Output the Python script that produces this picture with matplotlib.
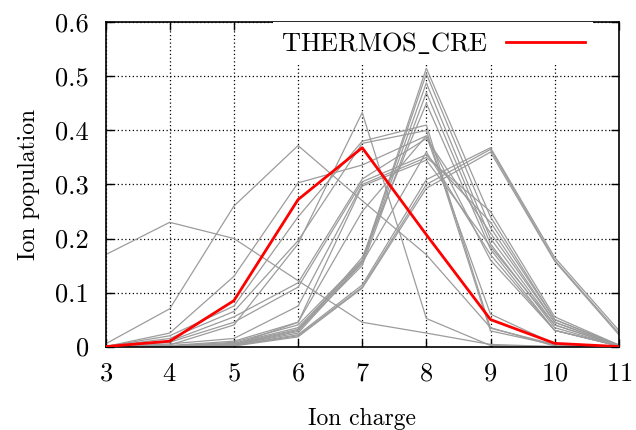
import numpy as np
import matplotlib
matplotlib.use('Agg')
import matplotlib.pyplot as plt

matplotlib.rcParams.update({'font.family': 'cmr10', 'mathtext.fontset': 'cm',
                            'axes.formatter.use_mathtext': True, 'font.size': 17})

# Ion charges
charges = [3, 4, 5, 6, 7, 8, 9, 10, 11]

# Reference code (red)
thermos_cre = [0.0, 0.01, 0.085, 0.272, 0.368, 0.207, 0.05, 0.006, 0.0]

# Other codes (gray)
others = [
    [0.17, 0.23, 0.20, 0.122, 0.045, 0.025, 0.004, 0.0, 0.0],
    [0.005, 0.07, 0.26, 0.372, 0.27, 0.17, 0.035, 0.001, 0.0],
    [0.0, 0.003, 0.04, 0.19, 0.433, 0.052, 0.002, 0.0, 0.0],
    [0.0, 0.025, 0.13, 0.303, 0.336, 0.39, 0.06, 0.005, 0.0],
    [0.0, 0.02, 0.075, 0.24, 0.38, 0.41, 0.034, 0.004, 0.0],
    [0.0, 0.015, 0.065, 0.196, 0.376, 0.40, 0.029, 0.003, 0.0],
    [0.0, 0.01, 0.055, 0.118, 0.31, 0.385, 0.21, 0.045, 0.002],
    [0.0, 0.008, 0.045, 0.11, 0.305, 0.355, 0.23, 0.05, 0.003],
    [0.0, 0.005, 0.015, 0.075, 0.30, 0.35, 0.25, 0.055, 0.003],
    [0.0, 0.002, 0.01, 0.045, 0.297, 0.345, 0.185, 0.04, 0.002],
    [0.0, 0.001, 0.008, 0.04, 0.16, 0.515, 0.24, 0.05, 0.002],
    [0.0, 0.001, 0.006, 0.035, 0.158, 0.505, 0.22, 0.045, 0.002],
    [0.0, 0.001, 0.005, 0.032, 0.155, 0.488, 0.20, 0.04, 0.001],
    [0.0, 0.0, 0.004, 0.03, 0.15, 0.47, 0.19, 0.035, 0.001],
    [0.0, 0.0, 0.003, 0.028, 0.165, 0.45, 0.18, 0.03, 0.001],
    [0.0, 0.0, 0.003, 0.025, 0.155, 0.36, 0.17, 0.03, 0.001],
    [0.0, 0.0, 0.002, 0.022, 0.114, 0.309, 0.368, 0.165, 0.03],
    [0.0, 0.0, 0.002, 0.02, 0.11, 0.30, 0.365, 0.16, 0.025],
    [0.0, 0.0, 0.001, 0.018, 0.108, 0.293, 0.36, 0.158, 0.022],
    [0.0, 0.0, 0.003, 0.045, 0.25, 0.39, 0.16, 0.03, 0.001],
]

yticks = [0, 0.1, 0.2, 0.3, 0.4, 0.5, 0.6]
ytick_labels = ['0', '0.1', '0.2', '0.3', '0.4', '0.5', '0.6']

fig = plt.figure(figsize=(6.36, 4.30), dpi=100)
ax = fig.add_axes([0.166, 0.194, 0.807, 0.754])

for vals in others:
    ax.plot(charges, vals, color='#9c9c9c', lw=0.9, zorder=2)
ax.plot(charges, thermos_cre, color='red', lw=2.0, zorder=3,
        label=r'$\mathrm{THERMOS\_CRE}$')

ax.set_xlim(3, 11)
ax.set_ylim(0, 0.6)
ax.set_xticks(charges)
ax.set_yticks(yticks)
ax.set_yticklabels(ytick_labels)
ax.grid(True, color='black', linestyle=(0, (1, 2)), lw=0.9)
ax.tick_params(direction='in', length=6, width=1, top=True, right=True,
               labelsize=19)
ax.tick_params(axis='x', pad=11)
ax.tick_params(axis='y', pad=12)
for s in ax.spines.values():
    s.set_linewidth(1.2)

ax.set_xlabel('Ion charge', labelpad=16)
ax.set_ylabel('Ion population', labelpad=11)

leg = ax.legend(loc='upper right', bbox_to_anchor=(0.95, 1.0), markerfirst=False,
                handlelength=3.0, fontsize=19,
                frameon=True, fancybox=False, framealpha=1, edgecolor='none',
                borderaxespad=0.0, borderpad=0.3, handletextpad=0.7)
leg.get_frame().set_linewidth(0)

fig.savefig('out.png', dpi=100)
